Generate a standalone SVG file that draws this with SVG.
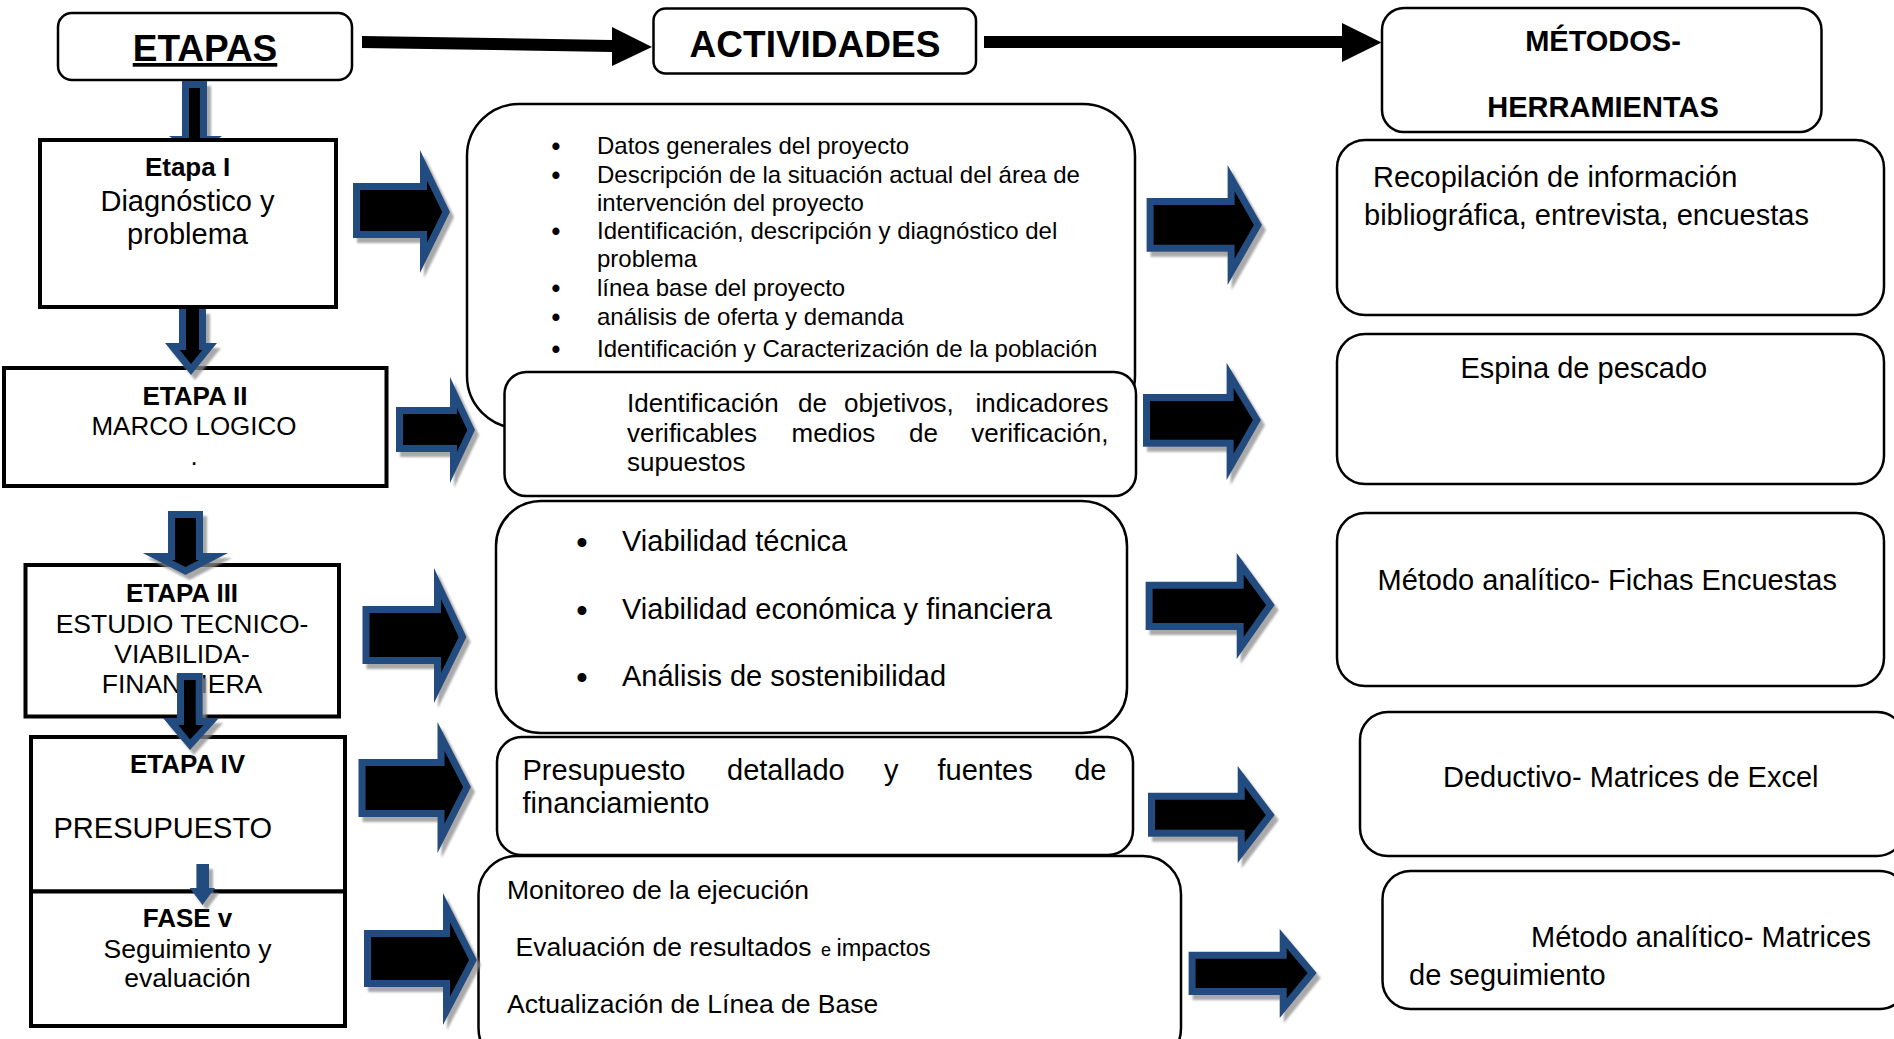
<svg xmlns="http://www.w3.org/2000/svg" width="1894" height="1039" viewBox="0 0 1894 1039">
<style>
.t{font-family:"Liberation Sans",Arial,sans-serif;fill:#000}
.b{font-weight:bold}
.c{text-anchor:middle}
.lbox{fill:#fff;stroke:#000;stroke-width:4}
.rbox{fill:#fff;stroke:#000;stroke-width:2.5}
.ob{fill:#244c7f}
.ib{fill:#000}
.f24{font-size:24px}.f26{font-size:26px}.f265{font-size:26.5px}.f29{font-size:29px}
.bu1{font-size:25px;text-anchor:middle;font-weight:bold}
.bu3{font-size:31px;text-anchor:middle;font-weight:bold}
</style>
<defs>
<filter id="sh" x="-20%" y="-20%" width="150%" height="150%">
<feDropShadow dx="4" dy="5" stdDeviation="0.8" flood-color="#8c8c8c" flood-opacity="0.75"/>
</filter>
<clipPath id="clipV1"><rect x="0" y="0" width="400" height="138"/></clipPath>
</defs>
<rect width="1894" height="1039" fill="#fff"/>

<g id="etapas">
<rect class="rbox" x="58" y="13" width="294" height="67" rx="14"/>
<text class="t b c" x="205" y="61" font-size="37" text-decoration="underline">ETAPAS</text>
</g>
<g id="actividades">
<rect class="rbox" x="653.5" y="8.5" width="322.5" height="65" rx="12"/>
<text class="t b c" x="815" y="57" font-size="37">ACTIVIDADES</text>
</g>
<g id="metodos">
<rect class="rbox" x="1382" y="8" width="439.5" height="124" rx="22"/>
<text class="t b c f29" x="1603" y="51">MÉTODOS-</text>
<text class="t b c f29" x="1603" y="117">HERRAMIENTAS</text>
</g>

<g id="etapa1">
<rect class="lbox" x="40" y="140" width="296" height="167"/>
<text class="t b c f26" x="187.5" y="176">Etapa I</text>
<text class="t c f29" x="187.5" y="211">Diagnóstico y</text>
<text class="t c f29" x="187.5" y="244">problema</text>
</g>
<g id="etapa2">
<rect class="lbox" x="4" y="368" width="382.5" height="118"/>
<text class="t b c f26" x="195" y="405">ETAPA II</text>
<text class="t c f26" x="194" y="435">MARCO LOGICO</text>
<text class="t c f26" x="194" y="465">.</text>
</g>
<g id="etapa3">
<rect class="lbox" x="25.5" y="565" width="313.5" height="151.5"/>
<text class="t b c f26" x="182" y="602">ETAPA III</text>
<text class="t c f265" x="182" y="633">ESTUDIO TECNICO-</text>
<text class="t c f265" x="182" y="663">VIABILIDA-</text>
<text class="t c f265" x="182" y="693">FINANCIERA</text>
</g>
<g id="etapa4">
<rect class="lbox" x="31" y="737" width="314" height="154.5"/>
<text class="t b c f26" x="187.5" y="773">ETAPA IV</text>
<text class="t f29" x="53.5" y="838">PRESUPUESTO</text>
</g>
<g id="fase5">
<rect class="lbox" x="31" y="891.5" width="314" height="134.5"/>
<text class="t b c f26" x="187.5" y="927">FASE v</text>
<text class="t c f265" x="187.5" y="958">Seguimiento y</text>
<text class="t c f265" x="187.5" y="987">evaluación</text>
</g>

<g id="act1">
<rect class="rbox" x="467" y="104" width="668" height="324" rx="52"/>
<g class="t f24">
<text class="bu1" x="556" y="155">•</text><text x="597" y="154">Datos generales del proyecto</text>
<text class="bu1" x="556" y="184">•</text><text x="597" y="183">Descripción de la situación actual del área de</text>
<text x="597" y="211">intervención del proyecto</text>
<text class="bu1" x="556" y="240">•</text><text x="597" y="239">Identificación, descripción y diagnóstico del</text>
<text x="597" y="267">problema</text>
<text class="bu1" x="556" y="297">•</text><text x="597" y="296">línea base del proyecto</text>
<text class="bu1" x="556" y="326">•</text><text x="597" y="325">análisis de oferta y demanda</text>
<text class="bu1" x="556" y="358">•</text><text x="597" y="357">Identificación y Caracterización de la población</text>
</g>
</g>
<g id="act2">
<rect class="rbox" x="504.5" y="372" width="631.5" height="124" rx="22"/>
<g class="t f26">
<text x="627" y="412">Identificación</text><text x="798" y="412">de</text><text x="844" y="412">objetivos,</text><text x="1108.5" y="412" text-anchor="end">indicadores</text>
<text x="627" y="442">verificables</text><text x="791.5" y="442">medios</text><text x="909" y="442">de</text><text x="1108.5" y="442" text-anchor="end">verificación,</text>
<text x="627" y="471">supuestos</text>
</g>
</g>
<g id="act3">
<rect class="rbox" x="496" y="501" width="631" height="232" rx="45"/>
<g class="t f29">
<text class="bu3" x="582" y="553">•</text><text x="622" y="551">Viabilidad técnica</text>
<text class="bu3" x="582" y="620.5">•</text><text x="622" y="618.5">Viabilidad económica y financiera</text>
<text class="bu3" x="582" y="688">•</text><text x="622" y="686">Análisis de sostenibilidad</text>
</g>
</g>
<g id="act4">
<rect class="rbox" x="497" y="737" width="636" height="118" rx="25"/>
<g class="t f29">
<text x="522.5" y="779.5">Presupuesto</text><text x="727" y="779.5">detallado</text><text x="884" y="779.5">y</text><text x="937.5" y="779.5">fuentes</text><text x="1106.5" y="779.5" text-anchor="end">de</text>
<text x="522.5" y="813">financiamiento</text>
</g>
</g>
<g id="act5">
<rect class="rbox" x="478.5" y="856" width="702.5" height="210" rx="38"/>
<g class="t f265">
<text x="507" y="899">Monitoreo de la ejecución</text>
<text x="515.5" y="956">Evaluación de resultados</text>
<text x="821" y="956" font-size="18">e</text>
<text x="836.5" y="956" font-size="23.5">impactos</text>
<text x="507" y="1013">Actualización de Línea de Base</text>
</g>
</g>

<g id="met1">
<rect class="rbox" x="1337" y="140" width="547" height="175" rx="28"/>
<text class="t f29" x="1373" y="187">Recopilación de información</text>
<text class="t f29" x="1364" y="225">bibliográfica, entrevista, encuestas</text>
</g>
<g id="met2">
<rect class="rbox" x="1337" y="334" width="547" height="150" rx="28"/>
<text class="t f29" x="1460.5" y="378">Espina de pescado</text>
</g>
<g id="met3">
<rect class="rbox" x="1337" y="513" width="547" height="173" rx="28"/>
<text class="t f29" x="1377.5" y="590">Método analítico- Fichas Encuestas</text>
</g>
<g id="met4">
<rect class="rbox" x="1360" y="712" width="545" height="144" rx="28"/>
<text class="t f29" x="1443" y="787">Deductivo- Matrices de Excel</text>
</g>
<g id="met5">
<rect class="rbox" x="1382.5" y="871" width="525" height="138" rx="28"/>
<text class="t f29" x="1531" y="947">Método analítico- Matrices</text>
<text class="t f29" x="1409" y="985">de seguimiento</text>
</g>

<g id="connectors">
<polygon fill="#000" points="362,36 612,40 612,27 652,47 612,66 612,52 362,48"/>
<polygon fill="#000" points="984,36 1342,36 1342,23 1381.5,42.5 1342,62 1342,48 984,48"/>

<g clip-path="url(#clipV1)"><g filter="url(#sh)">
<polygon class="ob" points="182,81 207,81 207,136 222,136 195.5,155 169,136 182,136"/>
<polygon class="ib" points="189,88 200,88 200,145 189,145"/>
</g></g>
<g filter="url(#sh)">
<polygon class="ob" points="179,309 206,309 206,343 217,343 191,375 165,343 179,343"/>
<polygon class="ib" points="186,309 199,309 199,350 202.3,350 191,363.9 179.7,350 186,350"/>
</g>
<g filter="url(#sh)">
<polygon class="ob" points="168,511 203,511 203,553 228,553 185.5,575 142.7,553 168,553"/>
<polygon class="ib" points="175,518 196,518 196,560 199.1,560 185.5,567.1 171.6,560 175,560"/>
</g>
<g filter="url(#sh)">
<polygon class="ob" points="177,673 202.7,673 202.7,718 219,718 190,750 163,718 177,718"/>
<polygon class="ib" points="184,680 195.7,680 195.7,725 203.6,725 190,739.4 178.4,725 184,725"/>
</g>
<g filter="url(#sh)">
<polygon class="ob" points="196.4,864 209,864 209,888 215,888 202.5,905 189.7,888 196.4,888"/>
</g>

<g filter="url(#sh)">
<polygon class="ob" points="353,183 420,183 420,150 450,212 420,273 420,238 353,238"/>
<polygon class="ib" points="360,190 427,190 427,180.5 442.2,212 427,242.8 427,231 360,231"/>
</g>
<g filter="url(#sh)">
<polygon class="ob" points="396,407 450,407 450,377 475,430 450,483 450,452 396,452"/>
<polygon class="ib" points="403,414 457,414 457,408.2 467.3,430 457,451.8 457,445 403,445"/>
</g>
<g filter="url(#sh)">
<polygon class="ob" points="362.5,606 434,606 434,568 466.5,637 434,703 434,664 362.5,664"/>
<polygon class="ib" points="369.5,613 441,613 441,599.3 458.7,637 441,672.9 441,657 369.5,657"/>
</g>
<g filter="url(#sh)">
<polygon class="ob" points="358.5,759 437.5,759 437.5,722 471,787 437.5,853 437.5,817 358.5,817"/>
<polygon class="ib" points="365.5,766 444.5,766 444.5,750.9 463.1,787 444.5,823.7 444.5,810 365.5,810"/>
</g>
<g filter="url(#sh)">
<polygon class="ob" points="364,930 443,930 443,893 477,960 443,1025 443,987 364,987"/>
<polygon class="ib" points="371,937 450,937 450,922.3 469.1,960 450,996.5 450,980 371,980"/>
</g>

<g filter="url(#sh)">
<polygon class="ob" points="1146.6,198 1227.6,198 1227.6,165 1262,225 1227.6,285 1227.6,251.7 1146.6,251.7"/>
<polygon class="ib" points="1153.6,205 1234.6,205 1234.6,191.3 1253.9,225 1234.6,258.7 1234.6,244.7 1153.6,244.7"/>
</g>
<g filter="url(#sh)">
<polygon class="ob" points="1143,394 1226.6,394 1226.6,362.7 1261,420 1226.6,480 1226.6,446.7 1143,446.7"/>
<polygon class="ib" points="1150,401 1233.6,401 1233.6,388 1252.9,420 1233.6,453.7 1233.6,439.7 1150,439.7"/>
</g>
<g filter="url(#sh)">
<polygon class="ob" points="1145.6,581.7 1236.7,581.7 1236.7,553 1274.7,605 1236.7,659 1236.7,630 1145.6,630"/>
<polygon class="ib" points="1152.6,588.7 1243.7,588.7 1243.7,574.4 1266.1,605 1243.7,636.9 1243.7,623 1152.6,623"/>
</g>
<g filter="url(#sh)">
<polygon class="ob" points="1148,792.7 1237.7,792.7 1237.7,766 1274.7,815 1237.7,863 1237.7,836.7 1148,836.7"/>
<polygon class="ib" points="1155,799.7 1244.7,799.7 1244.7,786.9 1265.9,815 1244.7,842.5 1244.7,829.7 1155,829.7"/>
</g>
<g filter="url(#sh)">
<polygon class="ob" points="1188.6,951.7 1279.7,951.7 1279.7,929 1316.7,973 1279.7,1018 1279.7,995 1188.6,995"/>
<polygon class="ib" points="1195.6,958.7 1286.7,958.7 1286.7,948.2 1307.6,973 1286.7,998.5 1286.7,988 1195.6,988"/>
</g>
</g>
</svg>
